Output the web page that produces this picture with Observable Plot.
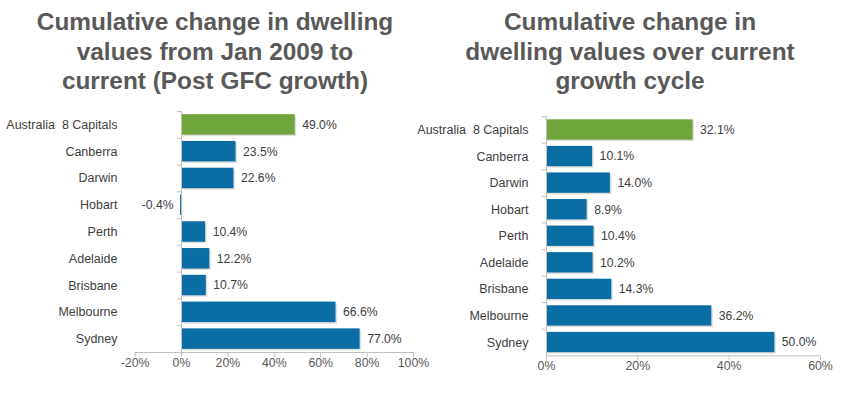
<!DOCTYPE html>
<html>
<head>
<meta charset="utf-8">
<script src="https://cdn.jsdelivr.net/npm/d3@7"></script>
<script src="https://cdn.jsdelivr.net/npm/@observablehq/plot@0.6"></script>
<style>
  body { margin: 0; background: #fff; }
  #wrap { position: relative; width: 843px; height: 398px; overflow: hidden; font-family: "Liberation Sans", Arial, sans-serif; }
  .title { position: absolute; top: 7px; width: 400px; text-align: center; font-weight: bold; font-size: 24.4px; line-height: 29.5px; color: #595959; }
  .panel { position: absolute; top: 0; }
</style>
</head>
<body>
<div id="wrap">
  <div class="title" id="t1" style="left:15px"></div>
  <div class="title" id="t2" style="left:430px"></div>
  <div class="panel" id="p1" style="left:0px"></div>
  <div class="panel" id="p2" style="left:420px"></div>
</div>
<script>
const categories = ["Australia\u00a0 8 Capitals", "Canberra", "Darwin", "Hobart", "Perth", "Adelaide", "Brisbane", "Melbourne", "Sydney"];
const postGFC = [49.0, 23.5, 22.6, -0.4, 10.4, 12.2, 10.7, 66.6, 77.0];
const currentCycle = [32.1, 10.1, 14.0, 8.9, 10.4, 10.2, 14.3, 36.2, 50.0];
const leftTicks = [-20, 0, 20, 40, 60, 80, 100];
const rightTicks = [0, 20, 40, 60];
const leftTitle = ["Cumulative change in dwelling", "values from Jan 2009 to", "current (Post GFC growth)"];
const rightTitle = ["Cumulative change in", "dwelling values over current", "growth cycle"];

const BLUE = "#0a6da3", GREEN = "#70a53c", AXIS = "#bfbfbf", TEXT = "#404040", TICKTEXT = "#595959";

function setTitle(el, lines) {
  const d = document.getElementById(el);
  lines.forEach((l, i) => { if (i) d.appendChild(document.createElement("br")); d.appendChild(document.createTextNode(l)); });
}
setTitle("t1", leftTitle);
setTitle("t2", rightTitle);

function chart(values, ticks, o) {
  const data = categories.map((c, i) => ({name: c, value: values[i], total: i === 0}));
  const n = categories.length;
  const frameH = o.height - o.marginTop - o.marginBottom;
  const step = frameH / n;
  return Plot.plot({
    width: o.width, height: o.height,
    marginTop: o.marginTop, marginBottom: o.marginBottom, marginLeft: o.marginLeft, marginRight: o.marginRight,
    style: {fontFamily: "'Liberation Sans', Arial, sans-serif", fontSize: "12px", background: "transparent", overflow: "visible"},
    x: {domain: o.domain, axis: null},
    y: {domain: categories, paddingInner: 0.235, paddingOuter: 0.1175, round: false, axis: null},
    marks: [
      // drop shadow
      Plot.barX(data, {x: "value", y: "name", fill: "#000", fillOpacity: 0.13, dx: 1.5, dy: 1.5}),
      Plot.barX(data, {filter: d => d.total, x: "value", y: "name", fill: GREEN}),
      Plot.barX(data, {filter: d => !d.total, x: "value", y: "name", fill: BLUE}),
      // y axis line and tick marks
      Plot.ruleX([0], {stroke: AXIS}),
      Plot.ruleY(categories, {y: d => d, x1: 0, x2: 0, insetLeft: -4, dy: -step / 2, stroke: AXIS}),
      // x axis line, ticks and labels
      Plot.ruleY([categories[n - 1]], {y: d => d, dy: step / 2, stroke: AXIS}),
      Plot.ruleX(ticks, {x: d => d, insetTop: frameH, insetBottom: -5, stroke: AXIS}),
      Plot.text(ticks, {x: d => d, frameAnchor: "bottom", dy: 14, text: d => d + "%", fill: TICKTEXT, fontSize: 12.3}),
      // category labels
      Plot.text(data, {x: () => 0, y: "name", text: "name", textAnchor: "end", dx: o.labelDx, fill: TEXT, fontSize: 12.5}),
      // value labels
      Plot.text(data, {filter: d => d.value >= 0, x: "value", y: "name", text: d => d.value.toFixed(1) + "%", textAnchor: "start", dx: 7, fill: TEXT, fontSize: 12.2}),
      Plot.text(data, {filter: d => d.value < 0, x: "value", y: "name", text: d => d.value.toFixed(1) + "%", textAnchor: "end", dx: -7, fill: TEXT, fontSize: 12.2})
    ]
  });
}

document.getElementById("p1").appendChild(chart(postGFC, leftTicks, {
  width: 420, height: 398, marginTop: 111, marginBottom: 46, marginLeft: 134.6, marginRight: 7,
  domain: [-20, 100], labelDx: -64
}));
document.getElementById("p2").appendChild(chart(currentCycle, rightTicks, {
  width: 423, height: 398, marginTop: 116.2, marginBottom: 42.7, marginLeft: 126, marginRight: 23,
  domain: [0, 60], labelDx: -18
}));
</script>
</body>
</html>
